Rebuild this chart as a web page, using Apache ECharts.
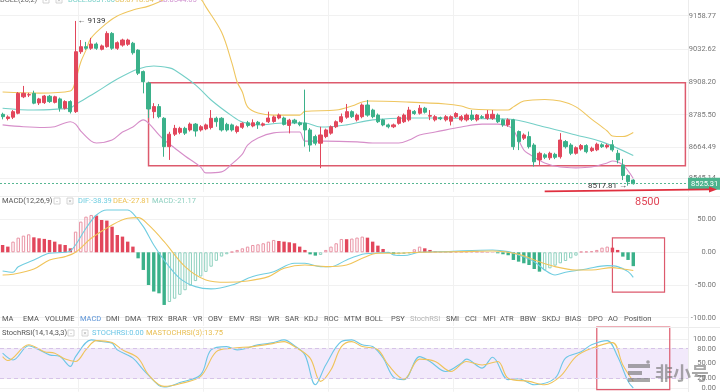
<!DOCTYPE html>
<html><head><meta charset="utf-8">
<script src="https://cdn.jsdelivr.net/npm/echarts@6/dist/echarts.min.js"></script>
<style>html,body{margin:0;padding:0;background:#fff}#c{width:720px;height:392px}</style>
</head><body><div id="c"></div>
<script>
// ---------- data ----------
const ohlc = [ // [open, close, low, high]
[8787,8778,8768,8793],[8771,8777,8764,8783],[8776,8797,8769,8803],[8791,8866,8787,8871],[8853,8866,8848,8894],
[8860,8861,8852,8868],[8866,8829,8825,8876],[8830,8845,8822,8849],[8831,8856,8826,8860],[8855,8835,8830,8860],
[8832,8853,8828,8857],[8845,8810,8797,8850],[8810,8835,8805,8840],[8835,8797,8790,8840],[8797,9023,8792,9139],
[9023,9042,9015,9067],[9042,9036,9030,9060],[9036,9052,9030,9075],[9052,9036,9030,9058],[9032,9045,9028,9050],
[9042,9092,9038,9100],[9092,9036,9030,9097],[9036,9057,9030,9062],[9048,9067,9042,9072],[9051,9067,9045,9072],
[9055,9019,9012,9060],[9029,8942,8935,9032],[8948,8910,8866,8952],[8905,8807,8773,8910],[8797,8816,8772,8829],
[8816,8778,8772,8826],[8772,8665,8627,8776],[8665,8712,8615,8721],[8712,8734,8705,8747],[8719,8734,8712,8740],
[8734,8716,8709,8740],[8728,8750,8722,8756],[8750,8724,8703,8754],[8728,8740,8722,8746],[8732,8747,8727,8752],
[8737,8772,8730,8803],[8772,8759,8740,8778],[8772,8728,8722,8776],[8749,8728,8722,8755],[8747,8728,8722,8752],
[8722,8740,8715,8745],[8738,8753,8732,8757],[8755,8745,8738,8762],[8743,8755,8738,8768],[8757,8749,8732,8762],
[8746,8751,8741,8756],[8759,8773,8754,8797],[8760,8777,8755,8782],[8773,8784,8768,8790],[8773,8749,8745,8778],
[8745,8765,8715,8770],[8765,8755,8750,8770],[8755,8748,8742,8760],[8754,8728,8665,8880],[8728,8671,8646,8735],
[8703,8678,8670,8710],[8678,8709,8584,8740],[8703,8728,8697,8733],[8716,8740,8710,8745],[8740,8759,8735,8764],
[8759,8778,8754,8790],[8776,8797,8770,8826],[8797,8778,8773,8802],[8766,8784,8760,8790],[8778,8822,8772,8828],
[8822,8784,8778,8841],[8803,8778,8772,8808],[8784,8759,8754,8790],[8766,8747,8742,8770],[8747,8740,8734,8752],
[8740,8747,8735,8752],[8753,8776,8748,8781],[8759,8784,8754,8790],[8766,8803,8760,8815],[8798,8790,8785,8803],
[8791,8810,8786,8822],[8810,8795,8790,8815],[8780,8782,8765,8803],[8766,8778,8760,8784],[8774,8770,8765,8778],
[8766,8778,8760,8784],[8761,8778,8745,8783],[8778,8790,8773,8795],[8766,8778,8760,8784],[8766,8784,8760,8790],
[8784,8768,8762,8803],[8766,8784,8760,8788],[8778,8775,8770,8784],[8772,8787,8766,8803],[8772,8787,8766,8803],
[8784,8759,8754,8790],[8766,8747,8740,8770],[8747,8766,8740,8772],[8766,8665,8653,8770],[8722,8684,8652,8726],
[8697,8709,8690,8715],[8703,8665,8658,8722],[8671,8608,8590,8678],[8615,8640,8596,8646],[8634,8625,8618,8640],
[8623,8640,8615,8646],[8636,8625,8618,8642],[8627,8690,8620,8716],[8684,8665,8658,8690],[8671,8640,8633,8678],
[8640,8661,8635,8666],[8656,8669,8650,8675],[8669,8646,8640,8674],[8650,8659,8645,8665],[8653,8674,8648,8680],
[8672,8665,8660,8678],[8664,8670,8658,8676],[8672,8653,8646,8690],[8640,8615,8602,8653],[8596,8556,8539,8619],
[8556,8533,8517.81,8560],[8539,8525.31,8522,8542]
];
const bollUpper = [[0,8871],[7,8867],[13,8875],[14,8916],[15,8984],[16,9029],[17,9075],[20,9131],[22,9158],[25,9180],[28,9195],[30,9210],[33,9241],[36,9244],[38,9222],[39,9192],[42,9097],[44,8980],[45,8909],[46,8871],[47,8815],[49,8792],[52,8784],[57,8784],[58,8798],[64,8803],[67,8818],[70,8837],[78,8833],[85,8826],[88,8818],[90,8807],[97,8803],[98,8815],[100,8837],[104,8843],[107,8837],[110,8815],[113,8769],[116,8724],[117,8705],[119,8703],[121,8718.54]];
const bollMid = [[0,8810],[6,8803],[11,8807],[13,8811],[14,8824],[18,8871],[22,8920],[26,8958],[29,8969],[32,8962],[33,8954],[37,8898],[40,8841],[44,8781],[46,8758],[49,8747],[54,8754],[58,8754],[61,8739],[62,8739],[66,8747],[71,8766],[78,8773],[84,8773],[90,8771],[97,8769],[104,8739],[110,8709],[115,8683],[121,8631.60]];
const bollLower = [[0,8747],[4,8740],[8,8737],[10,8740],[13,8759],[14,8750],[15,8724],[17,8686],[18,8679],[21,8690],[23,8720],[25,8739],[27,8766],[28,8754],[30,8709],[31,8690],[33,8660],[35,8630],[38,8588],[39,8566],[42,8570],[44,8600],[46,8637],[47,8671],[49,8698],[52,8717],[55,8720],[57,8720],[58,8686],[62,8686],[68,8683],[71,8679],[76,8679],[78,8690],[80,8709],[83,8720],[88,8739],[92,8750],[95,8750],[97,8743],[98,8728],[100,8652.5],[101,8637],[104,8603.5],[107,8588],[110,8585],[113,8588],[116,8603.5],[117,8611],[119,8596],[121,8544.65]];
const macdHist = [
11.2,8.7,16.3,22.4,25.5,27.5,22.9,21.4,20.5,18.9,
16.3,12.2,11.2,6.1,31.6,46.9,54.5,57.1,56.1,49.4,
48.5,39.2,26.5,24,16.3,8.7,-9.2,-27,-50,-60,
-62.7,-80.5,-76,-71,-65,-58,-51,-44,-37,-30,
-22,-13,-6.5,-3,0.8,3.6,6.1,8.7,11.2,12.2,
13.8,16.3,18.9,17.3,16.3,15.3,13.8,8.7,3.6,-3.1,
-5.1,-4.1,3.6,8.7,13.8,20.4,20.0,21,22.5,24,
22.4,16.3,10.2,5.1,-1,-3.1,-3.0,-2.5,-1.5,4.6,
8.7,6.1,3.6,1.5,1.0,0.8,0.9,1.2,1.0,1.3,
1.5,1.2,0.8,0.5,0.3,-1.5,-3.0,-4.5,-11.7,-14.3,
-16.8,-19.4,-25.5,-29.6,-27.5,-24.5,-20.4,-16.8,-13.3,-9.2,
-5.1,1.0,1.2,1.8,3.6,7.1,8.7,7.1,3.6,-6.6,
-11.7,-21.17];
const dif = [[0,-28.5],[2,-30.6],[3,-22],[6,-11.7],[8,-4],[9,-1.5],[12,0],[13,2],[14,11.2],[16,36.7],[18,57],[20,64.7],[24,64.7],[25,59.6],[27,39.2],[29,11.2],[31,-12],[34,-39.8],[37,-52.5],[40,-56],[44,-50],[48,-37],[52,-29.6],[56,-16.8],[58,-16.8],[61,-21.9],[63,-21.9],[66,-11.7],[69,-3],[71,-1.5],[74,0],[75,-4],[77,-5],[80,0],[85,1],[94,3.6],[97,1],[99,-4],[102,-14.3],[104,-27],[106,-34.7],[108,-30.6],[112,-25.5],[116,-20.4],[118,-21.9],[120,-29.6],[121,-38.39]];
const dea = [[0,-34.7],[2,-33.6],[6,-25.5],[9,-11.7],[12,-6.6],[14,0],[17,21.4],[21,41.8],[24,52],[26,53],[28,41.8],[31,16.3],[35,-21.9],[39,-42.3],[43,-45.9],[47,-43.8],[51,-37.2],[54,-24.5],[58,-19.4],[62,-21.9],[66,-19.4],[69,-9.2],[72,-1.5],[75,-1.5],[80,0],[88,1],[94,2],[99,-3],[102,-11.7],[106,-21.9],[110,-27],[113,-27],[117,-23.4],[119,-25.5],[121,-27.81]];
const stochK = [[0,71],[2,57],[5,86],[7,78],[9,67.5],[11,64],[13,44],[14,64],[17,98],[19,94.6],[21,91],[22,77.7],[25,61],[27,37],[30,4.7],[31,2],[34,11],[38,27],[40,77.7],[43,84.4],[45,77.7],[49,87.8],[52,92.5],[54,98],[56,86],[58,67.5],[60,6.7],[62,47],[65,94.6],[67,98],[69,88],[71,84.4],[73,61],[75,22.2],[77,17],[80,64],[82,54],[85,33.7],[88,50.6],[89,58.8],[92,40.5],[94,62.8],[97,17],[99,19],[102,6.7],[106,20],[108,61],[111,74],[113,88],[116,96.6],[118,64],[120,13.5],[121,0]];
const stochD = [[0,64],[1,56],[5,88],[8,74],[10,71],[12,59],[14,54],[16,78],[18,96.6],[21,92.5],[23,77.7],[26,61],[28,27],[31,3.3],[34,8.7],[38,23.6],[41,74],[44,81],[48,84.4],[52,91],[54,94.6],[56,84.4],[59,61],[61,13.4],[63,37],[65,84.4],[67,94.6],[69,84.4],[72,78],[74,47],[77,18],[80,58.8],[83,54],[86,33.7],[89,54],[92,47],[95,54],[97,20],[101,13.5],[104,6.7],[107,23.6],[110,64],[113,81],[117,92.5],[119,47],[121,13.75]];
const priceTicks = [8545.14, 8664.49, 8785.50, 8908.20, 9032.62, 9158.77];
const macdTicks = [-100, -50, 0, 50];
const stochTicks = [0, 20, 50, 80, 100];
const tabLabels = ['MA','EMA','VOLUME','MACD','DMI','DMA','TRIX','BRAR','VR','OBV','EMV','RSI','WR','SAR','KDJ','ROC','MTM','BOLL','PSY','StochRSI','SMI','CCI','MFI','ATR','BBW','SKDJ','BIAS','DPO','AO','Position'];
const targetPrice = 8500;
// annotation boxes (data coordinates)
const boxMain = [[28, 8906], [131, 8593]];
const boxMacd = [[117, 22], [125, -61]];
const boxStoch = [[114, 124], [128, -3.4]];

// ---------- layout / style ----------
const tabX = [2,23,45,80,106,125,147,168,193,208,229,250,268,285,304,324,344,365,391,410,446,465,483,500,520,542,565,588,608,624];
const SLOTS = 132;
const cats = Array.from({length: SLOTS}, (_, i) => i);
const RED = '#e2475c', GREEN = '#3bb18a';
const C_UP = '#efc65f', C_MID = '#74cfc7', C_LOW = '#d68ec9';
const C_DIF = '#70cde0', C_DEA = '#f0c45a';
const FONT = 'Roboto, "Noto Sans", sans-serif';
const gridLine = '#f1f1f1';

const splitInt = (i) => i >= 15 && (i - 15) % 24 === 0;
function xAxisFor(gi) {
  return {type: 'category', gridIndex: gi, data: cats, boundaryGap: true,
    axisLine: {show: false}, axisTick: {show: false}, axisLabel: {show: false},
    splitLine: {show: true, interval: splitInt, lineStyle: {color: gridLine, width: 1}}};
}
function yAxisFor(gi, min, max, ticks) {
  return {type: 'value', gridIndex: gi, position: 'right', min: min, max: max,
    axisLine: {show: true, lineStyle: {color: '#ececec'}},
    axisTick: {show: false, customValues: ticks},
    axisLabel: {customValues: ticks, formatter: v => v.toFixed(2), fontSize: 7.5, fontFamily: FONT, color: '#777', align: 'right', margin: 28},
    splitLine: {show: true, lineStyle: {color: gridLine}}};
}

const macdData = macdHist.map((v, i) => {
  const rising = i > 0 && v > macdHist[i - 1];
  const pos = v >= 0;
  if (rising) return {value: v, itemStyle: {color: 'rgba(255,255,255,0)', borderColor: pos ? '#e993a4' : '#8fd1bf', borderWidth: 1}};
  return {value: v, itemStyle: {color: pos ? RED : GREEN}};
});

const hiIdx = ohlc.reduce((b, d, i) => d[3] > ohlc[b][3] ? i : b, 0);
const loIdx = ohlc.reduce((b, d, i) => d[2] < ohlc[b][2] ? i : b, 0);
const last = ohlc[ohlc.length - 1][1];
const lastOf = a => a[a.length - 1][1];

const lineS = (data, color, xi, yi, z) => ({type: 'line', xAxisIndex: xi, yAxisIndex: yi, data: data, smooth: 0.35,
  showSymbol: false, symbol: 'none', lineStyle: {color: color, width: 1.1}, z: z || 3, silent: true});

const chart = echarts.init(document.getElementById('c'), null, {renderer: 'canvas'});
const option = {
  animation: false,
  backgroundColor: '#fff',
  grid: [
    {left: 0, right: 32, top: 0, height: 192},
    {left: 0, right: 32, top: 196, height: 130},
    {left: 0, right: 32, top: 327, height: 65}
  ],
  xAxis: [xAxisFor(0), xAxisFor(1), xAxisFor(2)],
  yAxis: [yAxisFor(0, 8494, 9218, priceTicks), yAxisFor(1, -112.7, 86.1, macdTicks), yAxisFor(2, -7.5, 124.3, stochTicks)],
  series: [
    {type: 'candlestick', xAxisIndex: 0, yAxisIndex: 0, data: ohlc, barWidth: 3.6, z: 4,
      itemStyle: {color: RED, color0: GREEN, borderColor: RED, borderColor0: GREEN, borderWidth: 1},
      markPoint: {symbol: 'circle', symbolSize: 0, silent: true,
        label: {fontSize: 8, fontFamily: FONT, color: '#333'},
        data: [
          {coord: [hiIdx, ohlc[hiIdx][3]], label: {position: 'right', distance: 2, formatter: '← ' + ohlc[hiIdx][3]}},
          {coord: [loIdx, ohlc[loIdx][2]], label: {position: 'left', distance: 1, formatter: ohlc[loIdx][2] + ' →'}}
        ]},
      markLine: {symbol: 'none', silent: true, data: [{yAxis: last}],
        lineStyle: {type: [2, 2], color: '#57b792', width: 1},
        label: {position: 'end', distance: 0, formatter: p => p.value.toFixed(2), backgroundColor: '#4cb38d', color: '#fff', fontSize: 7.5, fontFamily: FONT, padding: [2, 3]}},
      markArea: {silent: true, itemStyle: {color: 'rgba(0,0,0,0)', borderColor: '#dd5a6d', borderWidth: 1.5},
        data: [[{coord: boxMain[0]}, {coord: boxMain[1]}]]}
    },
    lineS(bollUpper, C_UP, 0, 0),
    lineS(bollMid, C_MID, 0, 0),
    lineS(bollLower, C_LOW, 0, 0),
    {type: 'bar', xAxisIndex: 1, yAxisIndex: 1, data: macdData, barWidth: 3.4, silent: true, z: 2,
      markArea: {silent: true, itemStyle: {color: 'rgba(0,0,0,0)', borderColor: '#dd5a6d', borderWidth: 1.2},
        data: [[{coord: boxMacd[0]}, {coord: boxMacd[1]}]]}},
    lineS(dif, C_DIF, 1, 1, 4),
    lineS(dea, C_DEA, 1, 1, 4),
    Object.assign(lineS(stochK, '#6cc6e6', 2, 2, 4), {
      markArea: {silent: true, itemStyle: {color: '#f2e9fb'}, data: [[{yAxis: 20}, {yAxis: 80}]]},
      markLine: {symbol: 'none', silent: true, label: {show: false}, lineStyle: {type: [4, 3], color: '#d6c3e8', width: 1},
        data: [{yAxis: 20}, {yAxis: 80}]}
    }),
    Object.assign(lineS(stochD, '#efc35a', 2, 2, 4), {
      markArea: {silent: true, itemStyle: {color: 'rgba(0,0,0,0)', borderColor: '#dd5a6d', borderWidth: 1.2},
        data: [[{coord: boxStoch[0]}, {coord: boxStoch[1]}]]}
    })
  ]
};
chart.setOption(option);

// ---------- texts / annotations ----------
const g = [];
const txt = (x, y, s, fill, size, extra) => g.push(Object.assign({type: 'text', x: x, y: y, z: 100,
  style: {text: s, fill: fill, fontSize: size || 7.5, fontFamily: FONT, verticalAlign: 'middle'}}, extra || {}));
const icon = (x, y, ch) => {
  g.push({type: 'rect', x: x, y: y - 3, z: 100, shape: {width: 6, height: 6}, style: {fill: '#fff', stroke: '#c9c9c9', lineWidth: 0.8}});
  g.push({type: 'text', x: x + 3, y: y, z: 101, style: {text: ch, fill: '#aaa', fontSize: 6, align: 'center', verticalAlign: 'middle'}});
};
// BOLL header
txt(0, 0, 'BOLL(20,2)', '#666');
icon(43, 0, '-'); icon(56, 0, '×');
txt(68, 0, 'BOLL:' + lastOf(bollMid).toFixed(2), C_MID);
txt(115, 0, 'UB:' + lastOf(bollUpper).toFixed(2), '#e6c05c');
txt(159, 0, 'LB:' + lastOf(bollLower).toFixed(2), '#cf8fcf');
// MACD header
txt(2, 201, 'MACD(12,26,9)', '#555');
icon(54, 201, '-'); icon(67, 201, '×');
txt(78, 201, 'DIF:' + lastOf(dif).toFixed(2), C_DIF);
txt(113, 201, 'DEA:' + lastOf(dea).toFixed(2), '#ecc052');
txt(152, 201, 'MACD:' + macdHist[macdHist.length - 1].toFixed(2), '#8ccfbf');
// tabs
tabLabels.forEach((t, i) => txt(tabX[i], 319, t, t === 'MACD' ? '#5b93d6' : (t === 'StochRSI' ? '#b5b5b5' : '#555'), 7.5));
// Stoch header
txt(2, 333, 'StochRSI(14,14,3,3)', '#555');
icon(68, 333, '-'); icon(82, 333, '×');
txt(92, 333, 'STOCHRSI:' + lastOf(stochK).toFixed(2), '#6cc6e6');
txt(146, 333, 'MASTOCHRSI(3):' + lastOf(stochD).toFixed(2), '#e8bd4f');
// separators
g.push({type: 'line', z: 90, shape: {x1: 0, y1: 196.5, x2: 720, y2: 196.5}, style: {stroke: '#ececec', lineWidth: 1}});
g.push({type: 'line', z: 90, shape: {x1: 0, y1: 327.5, x2: 720, y2: 327.5}, style: {stroke: '#ececec', lineWidth: 1}});
// 8500 arrow annotation (positioned through the price scale)
const p0 = chart.convertToPixel({gridIndex: 0}, [104, targetPrice]);
const ay = p0[1];
g.push({type: 'line', z: 110, shape: {x1: p0[0], y1: ay + 1, x2: 711, y2: ay - 1}, style: {stroke: '#e0303f', lineWidth: 1.6}});
g.push({type: 'polygon', z: 110, shape: {points: [[709, ay - 4], [717, ay - 1], [709, ay + 2]]}, style: {fill: '#e0303f'}});
txt(635, ay + 12, String(targetPrice), '#e04455', 11);
// watermark (separate elements)
const wm = 'rgba(110,110,110,0.6)';
g.push({type: 'rect', z: 120, shape: {x: 628, y: 364, width: 22, height: 4}, style: {fill: wm}});
g.push({type: 'rect', z: 120, shape: {x: 628, y: 371, width: 14, height: 4}, style: {fill: wm}});
g.push({type: 'rect', z: 120, shape: {x: 628, y: 378, width: 22, height: 4}, style: {fill: wm}});
g.push({type: 'circle', z: 120, shape: {cx: 648, cy: 362, r: 1.8}, style: {fill: wm}});
g.push({type: 'text', z: 120, x: 655, y: 373, style: {text: '非小号', fill: wm, fontSize: 18, fontWeight: 'bold', fontFamily: '"Noto Sans CJK SC", sans-serif', verticalAlign: 'middle'}});
chart.setOption({graphic: g});
</script>
</body></html>
